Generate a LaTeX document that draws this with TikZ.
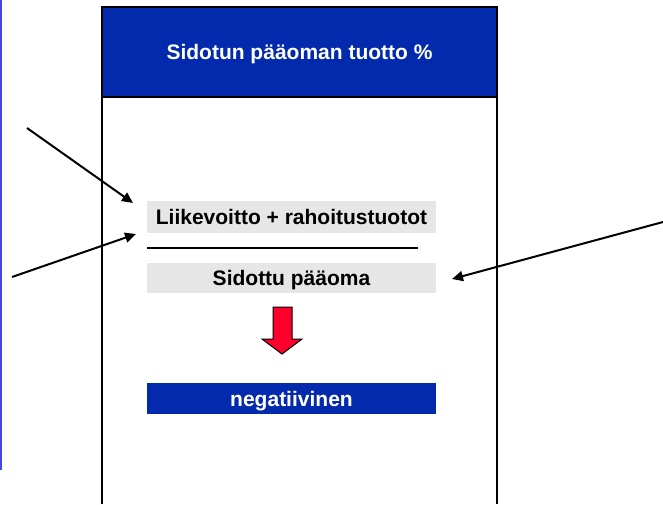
\documentclass[tikz,border=0pt]{standalone}
\usepackage{fontspec}
\setmainfont{Liberation Sans}
\usetikzlibrary{arrows.meta}
\definecolor{headblue}{RGB}{3,41,173}
\definecolor{boxgray}{RGB}{230,230,230}
\definecolor{sideblue}{RGB}{70,70,225}
\definecolor{downred}{RGB}{255,0,45}
\tikzset{
  label text/.style={font=\bfseries\fontsize{21}{24}\selectfont, inner sep=0pt, text height=15pt, text depth=0pt},
  graybox/.style={label text, fill=boxgray, minimum width=289pt, minimum height=32pt},
  bluebox/.style={label text, fill=headblue, text=white, minimum width=289pt, minimum height=31pt},
  pointer/.style={line width=2pt, -{Triangle[length=11pt, width=10pt]}}
}
\begin{document}
\begin{tikzpicture}[x=1pt, y=-1pt]
      \useasboundingbox (0,0) rectangle (663,504);
      \draw[line width=1.5pt, sideblue] (0.75,0) -- (0.75,470);
      \path[fill=headblue, draw=none] (102,7) rectangle (497,97);
      \draw[line width=2pt, black] (102,504) -- (102,7) -- (497,7) -- (497,504);
      \draw[line width=2pt, black] (102,97) -- (497,97);
      \node[label text, text=white] (title) at (299.5,52) {Sidotun pääoman tuotto \%};

      \node[graybox] (tulos) at (291.5,217) {Liikevoitto + rahoitustuotot};
      \draw[line width=2.3pt, black] (147,248) -- (418,248);
      \node[graybox, minimum height=30pt] (paaoma) at (291.5,278) {Sidottu pääoma};
      \node[bluebox] (tulosneg) at (291.5,398.5) {negatiivinen};

      \path[fill=downred, draw=black, line width=1pt]
        (273,307) -- (292,307) -- (292,339) -- (302,339) -- (282,354) --
        (262,339) -- (273,339) -- cycle;

      \coordinate (v1) at (27,128);
      \coordinate (v1e) at (133,203);
      \coordinate (v2) at (12,277);
      \coordinate (v2e) at (136,234);
      \coordinate (v3) at (663,222);
      \coordinate (v3e) at (452,279);
      \draw[pointer] (v1) -- (v1e);
      \draw[pointer] (v2) -- (v2e);
      \draw[pointer] (v3) -- (v3e);

    \end{tikzpicture}
\end{document}
